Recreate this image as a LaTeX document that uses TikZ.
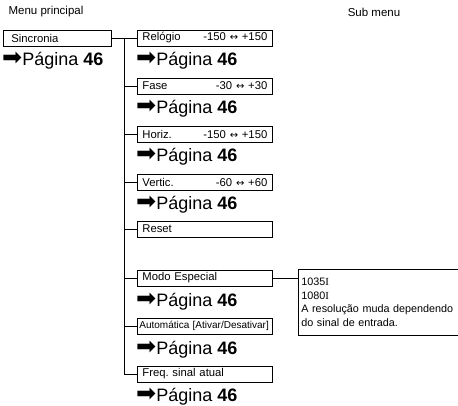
\documentclass[tikz,border=0pt]{standalone}
\usepackage{fontspec}
\setmainfont{Liberation Sans}
\newfontfamily\symfont{DejaVu Sans}
\newfontfamily\serfont{Liberation Serif}
\newcommand{\pag}{{\symfont\fontsize{24}{18}\selectfont ➡}Página \textbf{46}}
\newcommand{\lr}{{\symfont\fontsize{10}{10}\selectfont ↔}}
\frenchspacing

\begin{document}
\begin{tikzpicture}[x=1pt, y=-1pt,
  item/.style = {draw, line width=0.7pt, anchor=west, minimum height=16pt, inner ysep=0pt, inner xsep=5pt, text width=125pt, align=left, font=\fontsize{11.3}{12}\selectfont},
  page/.style = {anchor=base west, inner sep=0pt, font=\fontsize{18}{18}\selectfont},
  wire/.style = {line width=0.7pt}]
\useasboundingbox (0,0) rectangle (458,406);
\node (mp) at (46,12) {\fontsize{11.5}{11.5}\selectfont Menu principal}; \node (sm) at (374,12) {\fontsize{11.5}{11.5}\selectfont Sub menu};
\node[item, text width=92pt, inner xsep=8pt](sinc) at (3,38) {Sincronia}; \node[page](p0) at (2,66) {\pag};
\node[item](rel) at (137,38) {Relógio\hfill -150 \lr{} +150}; \node[page](p1) at (136,66) {\pag};
\node[item](fase) at (137,86) {Fase\hfill -30 \lr{} +30}; \node[page](p2) at (136,114) {\pag};
\node[item](hor) at (137,134) {Horiz.\hfill -150 \lr{} +150}; \node[page](p3) at (136,162) {\pag};
\node[item](ver) at (137,182) {Vertic.\hfill -60 \lr{} +60}; \node[page](p4) at (136,210) {\pag};
\node[item](reset) at (137,229) {Reset};
\node[item](modo) at (137,278) {Modo Especial}; \node[page](p5) at (136,306) {\pag};
\node[item, inner xsep=2pt, text width=131pt, font=\fontsize{10}{12}\selectfont](auto) at (137,326) {Automática [Ativar/Desativar]}; \node[page](p6) at (136,354) {\pag};
\node[item](freq) at (137,374) {Freq. sinal atual}; \node[page](p7) at (136,401) {\pag};
\node[draw, line width=0.7pt, anchor=north west, text width=200pt, minimum height=66pt, inner xsep=3pt, align=left, font=\fontsize{10.8}{13.5}\selectfont](res) at (298,269) {1035{\serfont I}\\1080{\serfont I}\\A resolução muda dependendo\\do sinal de entrada.};
\coordinate (tr) at (124,38);
\draw[wire] (sinc.east) -- (rel.west); \draw[wire] (tr) |- (freq.west);
\foreach \n in {fase,hor,ver,reset,modo,auto} \draw[wire] (tr |- \n.west) -- (\n.west);
\draw[wire] (modo.east) -- (modo.east -| res.west);
\end{tikzpicture}
\end{document}
